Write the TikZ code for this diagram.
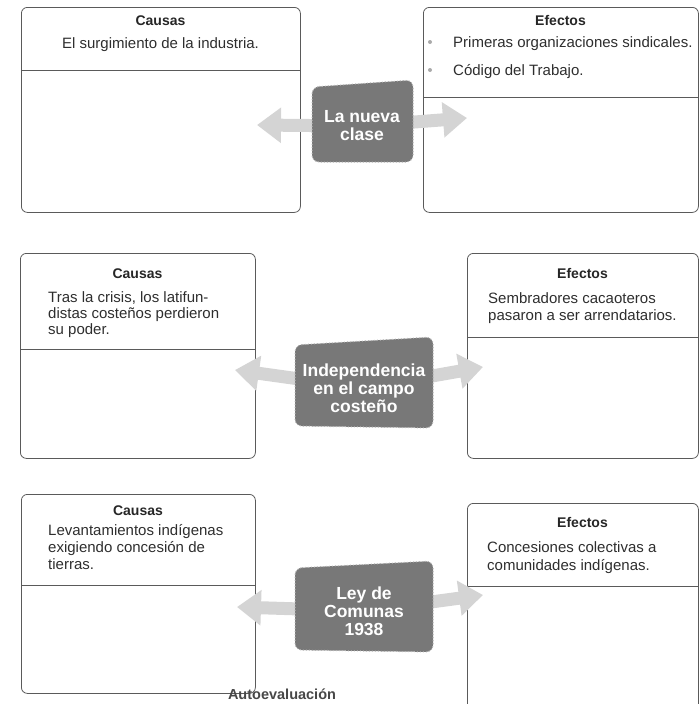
\documentclass[tikz,border=0pt]{standalone}
\usepackage{fontspec}
\setmainfont{Liberation Sans}
\usetikzlibrary{arrows.meta}
\definecolor{boxline}{HTML}{5A5A5A}
\definecolor{txt}{HTML}{2E2E2E}
\definecolor{hub}{HTML}{787878}
\definecolor{hubedge}{HTML}{B4B4B4}
\definecolor{arr}{HTML}{D4D4D4}
\definecolor{dotc}{HTML}{AAAAAA}
\pgfdeclarelayer{panels}
\pgfdeclarelayer{back}
\pgfsetlayers{panels,back,main}
\begin{document}
\begin{tikzpicture}[x=1pt,y=-1pt,
  panel/.style={draw=boxline, line width=0.8pt, rounded corners=6pt, anchor=north west, inner sep=0pt},
  divline/.style={draw=boxline, line width=0.8pt},
  head/.style={font=\bfseries\fontsize{14}{16}\selectfont, text=black!85, anchor=base, inner sep=0pt},
  ctr/.style={font=\fontsize{15}{17}\selectfont, text=txt, anchor=base, inner sep=0pt},
  line/.style={font=\fontsize{15}{17}\selectfont, text=txt, anchor=base west, inner sep=0pt},
  hubtext/.style={font=\bfseries\fontsize{17.5}{18}\selectfont, text=white, align=center, inner sep=0pt},
  hubshape/.style={fill=hub, draw=hubedge, dotted, line width=1pt, rounded corners=7pt},
  flow/.style={draw=arr, line width=13pt, -{Triangle[width=34pt,length=24pt]}},
  bullet/.style={circle, fill=dotc, inner sep=0pt, minimum size=4pt}
]
\useasboundingbox (0,0) rectangle (699,704);

% ---------- Row 1 ----------
\begin{pgfonlayer}{panels}
  \node[panel, minimum width=279pt, minimum height=205pt] (c1) at (21,7) {};
  \draw[divline] (21,70) -- (300,70);
  \node[panel, minimum width=275pt, minimum height=205pt] (e1) at (423,7) {};
  \draw[divline] (423,97) -- (698,97);
\end{pgfonlayer}
\node[head] (c1h) at (160.5,25) {Causas};
\node[ctr] (c1t) at (160.5,48) {El surgimiento de la industria.};
\node[head] (e1h) at (560.5,25) {Efectos};
\node[bullet] (b1) at (430,42) {};
\node[bullet] (b2) at (430,70) {};
\node[line] (e1t1) at (453,47) {Primeras organizaciones sindicales.};
\node[line] (e1t2) at (453,75) {Código del Trabajo.};

\node[hubtext] (h1) at (362,126) {La nueva\\clase};
\coordinate (a1l) at (257,125);
\coordinate (a1r) at (467,118);
\begin{pgfonlayer}{back}
  \draw[flow] (h1.center) -- (a1l);
  \draw[flow] (h1.center) -- (a1r);
  \path[hubshape] (312,87) -- (413,80) -- (413,162) -- (312,162) -- cycle;
\end{pgfonlayer}

% ---------- Row 2 ----------
\begin{pgfonlayer}{panels}
  \node[panel, minimum width=235pt, minimum height=205pt] (c2) at (20,253) {};
  \draw[divline] (20,349) -- (255,349);
  \node[panel, minimum width=231pt, minimum height=205pt] (e2) at (467,253) {};
  \draw[divline] (467,337) -- (698,337);
\end{pgfonlayer}
\node[head] (c2h) at (137.5,278) {Causas};
\node[line] (c2t1) at (48,302) {Tras la crisis, los latifun-};
\node[line] (c2t2) at (48,318) {distas costeños perdieron};
\node[line] (c2t3) at (48,334) {su poder.};
\node[head] (e2h) at (582.5,278) {Efectos};
\node[line] (e2t1) at (488,303) {Sembradores cacaoteros};
\node[line] (e2t2) at (488,320) {pasaron a ser arrendatarios.};

\node[hubtext] (h2) at (364,388) {Independencia\\en el campo\\costeño};
\coordinate (a2l) at (235,370);
\coordinate (a2r) at (483,367);
\begin{pgfonlayer}{back}
  \draw[flow] (h2.center) -- (a2l);
  \draw[flow] (h2.center) -- (a2r);
  \path[hubshape] (295,345) -- (433,337) -- (433,428) -- (295,426) -- cycle;
\end{pgfonlayer}

% ---------- Row 3 ----------
\begin{pgfonlayer}{panels}
  \node[panel, minimum width=234pt, minimum height=199pt] (c3) at (21,494) {};
  \draw[divline] (21,585) -- (255,585);
  \begin{scope}
    \clip (0,0) rectangle (699,704);
    \node[panel, minimum width=231pt, minimum height=220pt] (e3) at (467,503) {};
  \end{scope}
  \draw[divline] (467,586) -- (698,586);
\end{pgfonlayer}
\node[head] (c3h) at (138,515) {Causas};
\node[line] (c3t1) at (48,535) {Levantamientos indígenas};
\node[line] (c3t2) at (48,552) {exigiendo concesión de};
\node[line] (c3t3) at (48,569) {tierras.};
\node[head] (e3h) at (582.5,527) {Efectos};
\node[line] (e3t1) at (487,552) {Concesiones colectivas a};
\node[line] (e3t2) at (487,570) {comunidades indígenas.};

\node[hubtext] (h3) at (364,611) {Ley de\\Comunas\\1938};
\coordinate (a3l) at (237,607);
\coordinate (a3r) at (483,595);
\begin{pgfonlayer}{back}
  \draw[flow] (h3.center) -- (a3l);
  \draw[flow] (h3.center) -- (a3r);
  \path[hubshape] (295,568) -- (433,561) -- (433,652) -- (295,650) -- cycle;
\end{pgfonlayer}

\node[font=\bfseries\fontsize{14.5}{16}\selectfont, text=black!72, inner sep=0pt] (auto) at (282,694) {Autoevaluación};
\end{tikzpicture}
\end{document}
